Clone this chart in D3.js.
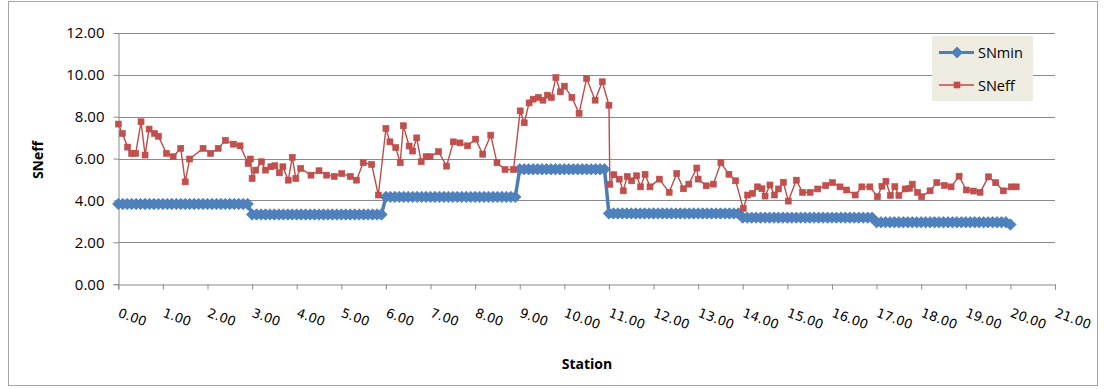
<!DOCTYPE html>
<html>
<head>
<meta charset="utf-8">
<script src="https://cdn.jsdelivr.net/npm/d3@7"></script>
<style>
  html, body { margin: 0; padding: 0; background: #fff; }
  svg { display: block; }
</style>
</head>
<body>
<svg id="chart" width="1104" height="389"></svg>
<script>
// ---------- DATA ----------
const yTicks = [0, 2, 4, 6, 8, 10, 12];
const xTicks = [0,1,2,3,4,5,6,7,8,9,10,11,12,13,14,15,16,17,18,19,20,21];
const seriesNames = ["SNmin", "SNeff"];

const snminStation = [
  0.0,0.1,0.2,0.3,0.4,0.5,0.6,0.7,0.8,0.9,
  1.0,1.1,1.2,1.3,1.4,1.5,1.6,1.7,1.8,1.9,
  2.0,2.1,2.2,2.3,2.4,2.5,2.6,2.7,2.8,2.9,
  3.0,3.1,3.2,3.3,3.4,3.5,3.6,3.7,3.8,3.9,
  4.0,4.1,4.2,4.3,4.4,4.5,4.6,4.7,4.8,4.9,
  5.0,5.1,5.2,5.3,5.4,5.5,5.6,5.7,5.8,5.9,
  6.0,6.1,6.2,6.3,6.4,6.5,6.6,6.7,6.8,6.9,
  7.0,7.1,7.2,7.3,7.4,7.5,7.6,7.7,7.8,7.9,
  8.0,8.1,8.2,8.3,8.4,8.5,8.6,8.7,8.8,8.9,
  9.0,9.1,9.2,9.3,9.4,9.5,9.6,9.7,9.8,9.9,
  10.0,10.1,10.2,10.3,10.4,10.5,10.6,10.7,10.8,10.9,
  11.0,11.1,11.2,11.3,11.4,11.5,11.6,11.7,11.8,11.9,
  12.0,12.1,12.2,12.3,12.4,12.5,12.6,12.7,12.8,12.9,
  13.0,13.1,13.2,13.3,13.4,13.5,13.6,13.7,13.8,13.9,
  14.0,14.1,14.2,14.3,14.4,14.5,14.6,14.7,14.8,14.9,
  15.0,15.1,15.2,15.3,15.4,15.5,15.6,15.7,15.8,15.9,
  16.0,16.1,16.2,16.3,16.4,16.5,16.6,16.7,16.8,16.9,
  17.0,17.1,17.2,17.3,17.4,17.5,17.6,17.7,17.8,17.9,
  18.0,18.1,18.2,18.3,18.4,18.5,18.6,18.7,18.8,18.9,
  19.0,19.1,19.2,19.3,19.4,19.5,19.6,19.7,19.8,19.9,
  20.0
];
const snminValue = [
  3.83,3.83,3.83,3.83,3.83,3.83,3.83,3.83,3.83,3.83,
  3.83,3.83,3.83,3.83,3.83,3.83,3.83,3.83,3.83,3.83,
  3.83,3.83,3.83,3.83,3.83,3.83,3.83,3.83,3.83,3.83,
  3.33,3.33,3.33,3.33,3.33,3.33,3.33,3.33,3.33,3.33,
  3.33,3.33,3.33,3.33,3.33,3.33,3.33,3.33,3.33,3.33,
  3.33,3.33,3.33,3.33,3.33,3.33,3.33,3.33,3.33,3.33,
  4.17,4.17,4.17,4.17,4.17,4.17,4.17,4.17,4.17,4.17,
  4.17,4.17,4.17,4.17,4.17,4.17,4.17,4.17,4.17,4.17,
  4.17,4.17,4.17,4.17,4.17,4.17,4.17,4.17,4.17,4.17,
  5.49,5.49,5.49,5.49,5.49,5.49,5.49,5.49,5.49,5.49,
  5.49,5.49,5.49,5.49,5.49,5.49,5.49,5.49,5.49,5.49,
  3.38,3.38,3.38,3.38,3.38,3.38,3.38,3.38,3.38,3.38,
  3.38,3.38,3.38,3.38,3.38,3.38,3.38,3.38,3.38,3.38,
  3.38,3.38,3.38,3.38,3.38,3.38,3.38,3.38,3.38,3.38,
  3.18,3.18,3.18,3.18,3.18,3.18,3.18,3.18,3.18,3.18,
  3.18,3.18,3.18,3.18,3.18,3.18,3.18,3.18,3.18,3.18,
  3.18,3.18,3.18,3.18,3.18,3.18,3.18,3.18,3.18,3.18,
  2.96,2.96,2.96,2.96,2.96,2.96,2.96,2.96,2.96,2.96,
  2.96,2.96,2.96,2.96,2.96,2.96,2.96,2.96,2.96,2.96,
  2.96,2.96,2.96,2.96,2.96,2.96,2.96,2.96,2.96,2.96,
  2.85
];

const sneffStation = [
  0.00,0.09,0.21,0.30,0.39,0.51,0.60,0.69,0.81,0.90,
  1.08,1.23,1.40,1.50,1.60,1.90,2.07,2.24,2.40,2.58,
  2.73,2.91,2.96,3.00,3.08,3.21,3.30,3.42,3.51,3.61,
  3.69,3.81,3.90,3.98,4.09,4.32,4.50,4.67,4.84,5.01,
  5.20,5.34,5.49,5.68,5.83,6.00,6.09,6.22,6.32,6.39,
  6.52,6.60,6.69,6.79,6.90,6.99,7.18,7.36,7.51,7.66,
  7.83,8.01,8.17,8.35,8.49,8.67,8.86,9.01,9.10,9.21,
  9.30,9.42,9.52,9.62,9.71,9.81,9.91,10.00,10.17,10.33,
  10.50,10.69,10.85,11.00,11.02,11.11,11.23,11.32,11.41,11.51,
  11.62,11.71,11.81,11.92,12.13,12.35,12.52,12.67,12.79,12.97,
  13.00,13.18,13.34,13.51,13.69,13.84,14.01,14.11,14.22,14.33,
  14.43,14.50,14.61,14.71,14.80,14.91,15.02,15.20,15.34,15.51,
  15.68,15.86,16.01,16.18,16.33,16.52,16.67,16.85,17.02,17.12,
  17.21,17.31,17.41,17.50,17.64,17.74,17.80,17.92,18.01,18.20,
  18.35,18.52,18.67,18.85,19.01,19.17,19.32,19.51,19.67,19.84,
  20.02,20.13
];
const sneffValue = [
  7.65,7.20,6.55,6.25,6.25,7.76,6.17,7.41,7.20,7.07,
  6.25,6.09,6.49,4.89,5.98,6.49,6.25,6.49,6.87,6.69,
  6.61,5.77,5.98,5.05,5.45,5.85,5.45,5.61,5.66,5.32,
  5.61,4.97,6.06,5.05,5.53,5.21,5.42,5.21,5.15,5.28,
  5.15,4.97,5.80,5.72,4.26,7.44,6.80,6.53,5.80,7.57,
  6.60,6.36,6.99,5.85,6.09,6.09,6.33,5.64,6.80,6.75,
  6.61,6.93,6.21,7.12,5.80,5.48,5.48,8.28,7.71,8.66,
  8.84,8.92,8.79,9.03,8.92,9.87,9.19,9.46,8.92,8.16,
  9.83,8.79,9.67,8.55,4.77,5.23,5.02,4.46,5.15,4.94,
  5.18,4.65,5.25,4.65,5.02,4.39,5.29,4.56,4.78,5.55,
  5.02,4.70,4.78,5.80,5.25,4.94,3.62,4.26,4.34,4.65,
  4.56,4.21,4.74,4.26,4.55,4.87,3.97,4.97,4.39,4.39,
  4.55,4.71,4.85,4.65,4.50,4.26,4.65,4.65,4.18,4.68,
  4.92,4.24,4.66,4.24,4.55,4.58,4.78,4.39,4.18,4.46,
  4.85,4.72,4.65,5.16,4.50,4.45,4.39,5.13,4.85,4.46,
  4.65,4.65
];

// ---------- LAYOUT ----------
const svg = d3.select("#chart");
const plot = { left: 118.3, right: 1055, top: 33, bottom: 284.2 };
const x = d3.scaleLinear().domain([0, 21]).range([plot.left, plot.right]);
const y = d3.scaleLinear().domain([0, 12]).range([plot.bottom, plot.top]);

const gridColor = "#8a8a8a";
const blue = "#4A7EBB", blueFill = "#4F81BD";
const red = "#BE4B48", redFill = "#C0504D";

// outer chart border
svg.append("rect")
  .attr("x", 8.5).attr("y", 1.5).attr("width", 1089).attr("height", 384)
  .attr("fill", "#fff").attr("stroke", "#a6a6a6").attr("stroke-width", 1);

// gridlines
svg.append("g").selectAll("line").data(yTicks.filter(d => d > 0)).join("line")
  .attr("x1", plot.left).attr("x2", plot.right)
  .attr("y1", d => Math.round(y(d)) + 0.5).attr("y2", d => Math.round(y(d)) + 0.5)
  .attr("stroke", gridColor).attr("stroke-width", 1);

// y axis
const yAxis = d3.axisLeft(y).tickValues(yTicks).tickSize(5).tickFormat(d3.format(".2f"));
const gy = svg.append("g").attr("transform", `translate(${Math.round(plot.left) + 0.5},0)`).call(yAxis);
gy.select(".domain").attr("stroke", gridColor);
gy.selectAll(".tick line").attr("stroke", gridColor);
gy.selectAll(".tick text")
  .attr("x", -14)
  .attr("font-family", "'Open Sans', sans-serif").attr("font-size", "15px").attr("fill", "#000");

// x axis
const xAxis = d3.axisBottom(x).tickValues(xTicks).tickSize(5).tickFormat(d3.format(".2f"));
const gx = svg.append("g").attr("transform", `translate(0,${Math.round(plot.bottom) + 0.5})`).call(xAxis);
gx.select(".domain").attr("stroke", gridColor);
gx.selectAll(".tick line").attr("stroke", gridColor);
gx.selectAll(".tick text")
  .attr("x", -1.5).attr("y", 32).attr("dy", 0)
  .attr("text-anchor", "start")
  .attr("transform", "rotate(20,-1.5,32)")
  .attr("font-family", "'DejaVu Sans', sans-serif").attr("font-size", "13px").attr("fill", "#000");

// axis titles
svg.append("text").attr("x", 587).attr("y", 369).attr("text-anchor", "middle")
  .attr("font-family", "'Open Sans', sans-serif").attr("font-weight", "bold").attr("font-size", "14px")
  .text("Station");
svg.append("text").attr("transform", "translate(43,160) rotate(-90)").attr("text-anchor", "middle")
  .attr("font-family", "'Open Sans', sans-serif").attr("font-weight", "bold").attr("font-size", "14px")
  .text("SNeff");

// ---------- SERIES ----------
const snmin = snminStation.map((s, i) => ({ s, v: snminValue[i] }));
const sneff = sneffStation.map((s, i) => ({ s, v: sneffValue[i] }));
const line = d3.line().x(d => x(d.s)).y(d => y(d.v));

function diamondPath(h) { return `M0,${-h}L${h},0L0,${h}L${-h},0Z`; }

svg.append("path").datum(snmin).attr("d", line)
  .attr("fill", "none").attr("stroke", blue).attr("stroke-width", 3.5).attr("stroke-linejoin", "round");
svg.append("g").selectAll("path").data(snmin).join("path")
  .attr("transform", d => `translate(${x(d.s)},${y(d.v)})`)
  .attr("d", diamondPath(5.7))
  .attr("fill", blueFill).attr("stroke", blue).attr("stroke-width", 0.8);

svg.append("path").datum(sneff).attr("d", line)
  .attr("fill", "none").attr("stroke", red).attr("stroke-width", 1.4).attr("stroke-linejoin", "round");
svg.append("g").selectAll("rect").data(sneff).join("rect")
  .attr("x", d => x(d.s) - 3).attr("y", d => y(d.v) - 3)
  .attr("width", 6).attr("height", 6)
  .attr("fill", redFill).attr("stroke", red).attr("stroke-width", 0.6);

// ---------- LEGEND ----------
const lg = svg.append("g");
lg.append("rect").attr("x", 932).attr("y", 36).attr("width", 101).attr("height", 65).attr("fill", "#EEECE1");
const legendRows = [
  { name: seriesNames[0], y: 52.5 },
  { name: seriesNames[1], y: 85 }
];
legendRows.forEach((r, i) => {
  lg.append("line").attr("x1", 939).attr("x2", 974).attr("y1", r.y).attr("y2", r.y)
    .attr("stroke", i === 0 ? blue : red).attr("stroke-width", i === 0 ? 3 : 1.4);
  if (i === 0) {
    lg.append("path").attr("transform", `translate(957,${r.y})`).attr("d", diamondPath(5.5))
      .attr("fill", blueFill).attr("stroke", blue).attr("stroke-width", 0.8);
  } else {
    lg.append("rect").attr("x", 954).attr("y", r.y - 3).attr("width", 6).attr("height", 6)
      .attr("fill", redFill).attr("stroke", red).attr("stroke-width", 0.6);
  }
  lg.append("text").attr("x", 978).attr("y", r.y + 5.5)
    .attr("font-family", "'Open Sans', sans-serif").attr("font-size", "14.5px").attr("fill", "#000")
    .text(r.name);
});
</script>
</body>
</html>
